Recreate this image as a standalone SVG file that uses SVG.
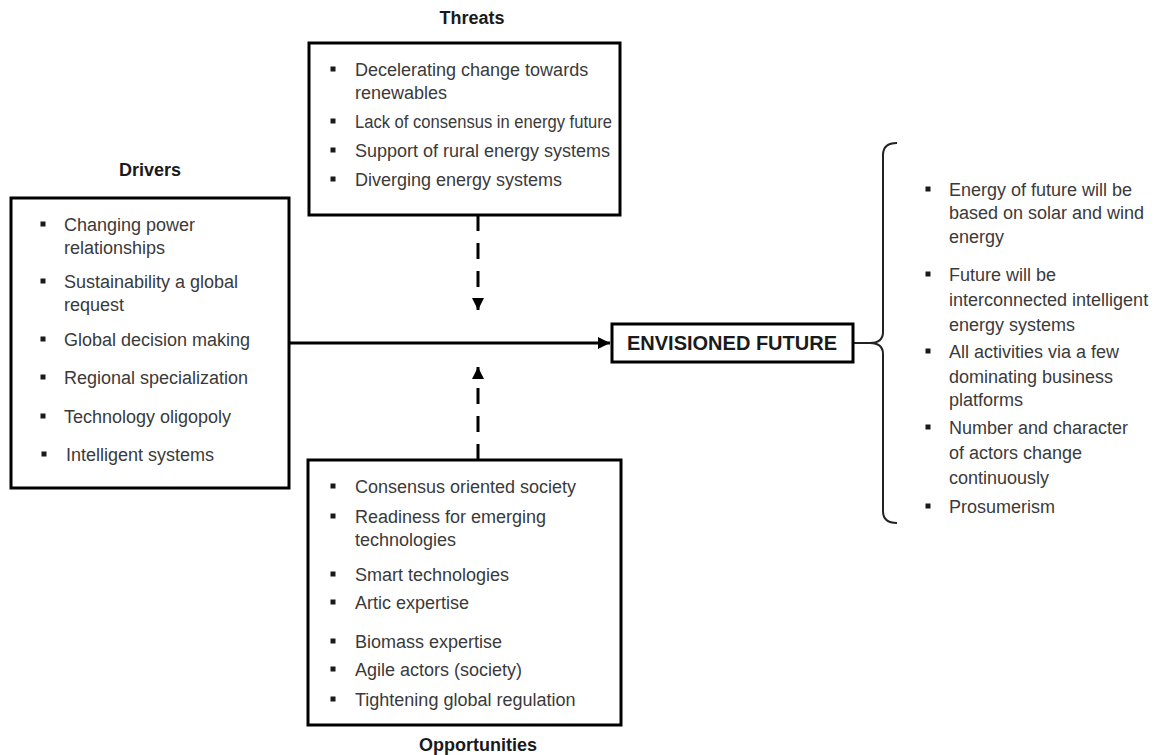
<svg xmlns="http://www.w3.org/2000/svg" width="1169" height="755" viewBox="0 0 1169 755">
  <style>
    .box { fill: #ffffff; stroke: #000000; stroke-width: 3; }
    .head { font-family: "Liberation Sans", Arial, sans-serif; font-weight: bold; font-size: 18px; fill: #1a1a1a; text-anchor: middle; }
    .item { font-family: "Liberation Sans", Arial, sans-serif; font-size: 18px; fill: #3a3a3a; }
    .bul { fill: #1a1a1a; }
    .solid { stroke: #000000; stroke-width: 3; fill: none; }
    .dash { stroke: #000000; stroke-width: 3; fill: none; stroke-dasharray: 16 12; }
    .brace { stroke: #222222; stroke-width: 2; fill: none; }
  </style>
  <defs>
    <marker id="arrow" viewBox="0 0 10 10" refX="10" refY="5" markerWidth="4" markerHeight="4" orient="auto" markerUnits="strokeWidth">
      <path d="M0,0 L10,5 L0,10 Z" fill="#000000"/>
    </marker>
    <rect id="sq" x="-2.5" y="-2.5" width="5" height="5"/>
  </defs>

  <rect width="1169" height="755" fill="#ffffff"/>

  <!-- connectors -->
  <g id="connectors">
    <line class="solid" x1="289" y1="343" x2="610" y2="343" marker-end="url(#arrow)"/>
    <line class="dash" x1="478" y1="215" x2="478" y2="310" marker-end="url(#arrow)"/>
    <line class="dash" x1="478" y1="460" x2="478" y2="367" marker-end="url(#arrow)"/>
    <path class="brace" d="M853 343 L870 343 Q883 343 883 332 L883 155 Q883 143 897 143 M870 343 Q883 343 883 354 L883 511 Q883 523 897 523"/>
  </g>

  <!-- threats -->
  <g id="threats">
    <text class="head" x="472" y="24">Threats</text>
    <rect class="box" x="309" y="43" width="311" height="172"/>
    <g class="bul">
      <use href="#sq" x="333" y="69"/>
      <use href="#sq" x="333" y="121"/>
      <use href="#sq" x="333" y="150"/>
      <use href="#sq" x="333" y="179"/>
    </g>
    <text class="item" x="355" y="76">Decelerating change towards</text>
    <text class="item" x="355" y="99">renewables</text>
    <text class="item" x="355" y="128" textLength="257" lengthAdjust="spacingAndGlyphs">Lack of consensus in energy future</text>
    <text class="item" x="355" y="157">Support of rural energy systems</text>
    <text class="item" x="355" y="186">Diverging energy systems</text>
  </g>

  <!-- drivers -->
  <g id="drivers">
    <text class="head" x="150" y="176">Drivers</text>
    <rect class="box" x="11" y="198" width="278" height="290"/>
    <g class="bul">
      <use href="#sq" x="43" y="224"/>
      <use href="#sq" x="43" y="281"/>
      <use href="#sq" x="43" y="339"/>
      <use href="#sq" x="43" y="377"/>
      <use href="#sq" x="43" y="416"/>
      <use href="#sq" x="44" y="454"/>
    </g>
    <text class="item" x="64" y="231">Changing power</text>
    <text class="item" x="64" y="254">relationships</text>
    <text class="item" x="64" y="288">Sustainability a global</text>
    <text class="item" x="64" y="311">request</text>
    <text class="item" x="64" y="346">Global decision making</text>
    <text class="item" x="64" y="384">Regional specialization</text>
    <text class="item" x="64" y="423">Technology oligopoly</text>
    <text class="item" x="66" y="461">Intelligent systems</text>
  </g>

  <!-- opportunities -->
  <g id="opportunities">
    <rect class="box" x="308" y="460" width="313" height="265"/>
    <g class="bul">
      <use href="#sq" x="333" y="486"/>
      <use href="#sq" x="333" y="516"/>
      <use href="#sq" x="333" y="574"/>
      <use href="#sq" x="333" y="602"/>
      <use href="#sq" x="333" y="641"/>
      <use href="#sq" x="333" y="669"/>
      <use href="#sq" x="333" y="699"/>
    </g>
    <text class="item" x="355" y="493">Consensus oriented society</text>
    <text class="item" x="355" y="523">Readiness for emerging</text>
    <text class="item" x="355" y="546">technologies</text>
    <text class="item" x="355" y="581">Smart technologies</text>
    <text class="item" x="355" y="609">Artic expertise</text>
    <text class="item" x="355" y="648">Biomass expertise</text>
    <text class="item" x="355" y="676">Agile actors (society)</text>
    <text class="item" x="355" y="706">Tightening global regulation</text>
    <text class="head" x="478" y="751">Opportunities</text>
  </g>

  <!-- envisioned future -->
  <g id="envisioned-future">
    <rect class="box" x="612" y="324" width="241" height="38"/>
    <text class="head" x="732" y="350" style="font-size:20px">ENVISIONED FUTURE</text>
  </g>

  <!-- outcomes list -->
  <g id="outcomes">
    <g class="bul">
      <use href="#sq" x="928" y="189"/>
      <use href="#sq" x="928" y="274"/>
      <use href="#sq" x="928" y="351"/>
      <use href="#sq" x="928" y="427"/>
      <use href="#sq" x="928" y="506"/>
    </g>
    <text class="item" x="949" y="196">Energy of future will be</text>
    <text class="item" x="949" y="219">based on solar and wind</text>
    <text class="item" x="949" y="243">energy</text>
    <text class="item" x="949" y="281">Future will be</text>
    <text class="item" x="949" y="306">interconnected intelligent</text>
    <text class="item" x="949" y="331">energy systems</text>
    <text class="item" x="949" y="358">All activities via a few</text>
    <text class="item" x="949" y="383">dominating business</text>
    <text class="item" x="949" y="406">platforms</text>
    <text class="item" x="949" y="434">Number and character</text>
    <text class="item" x="949" y="459">of actors change</text>
    <text class="item" x="949" y="484">continuously</text>
    <text class="item" x="949" y="513">Prosumerism</text>
  </g>
</svg>
